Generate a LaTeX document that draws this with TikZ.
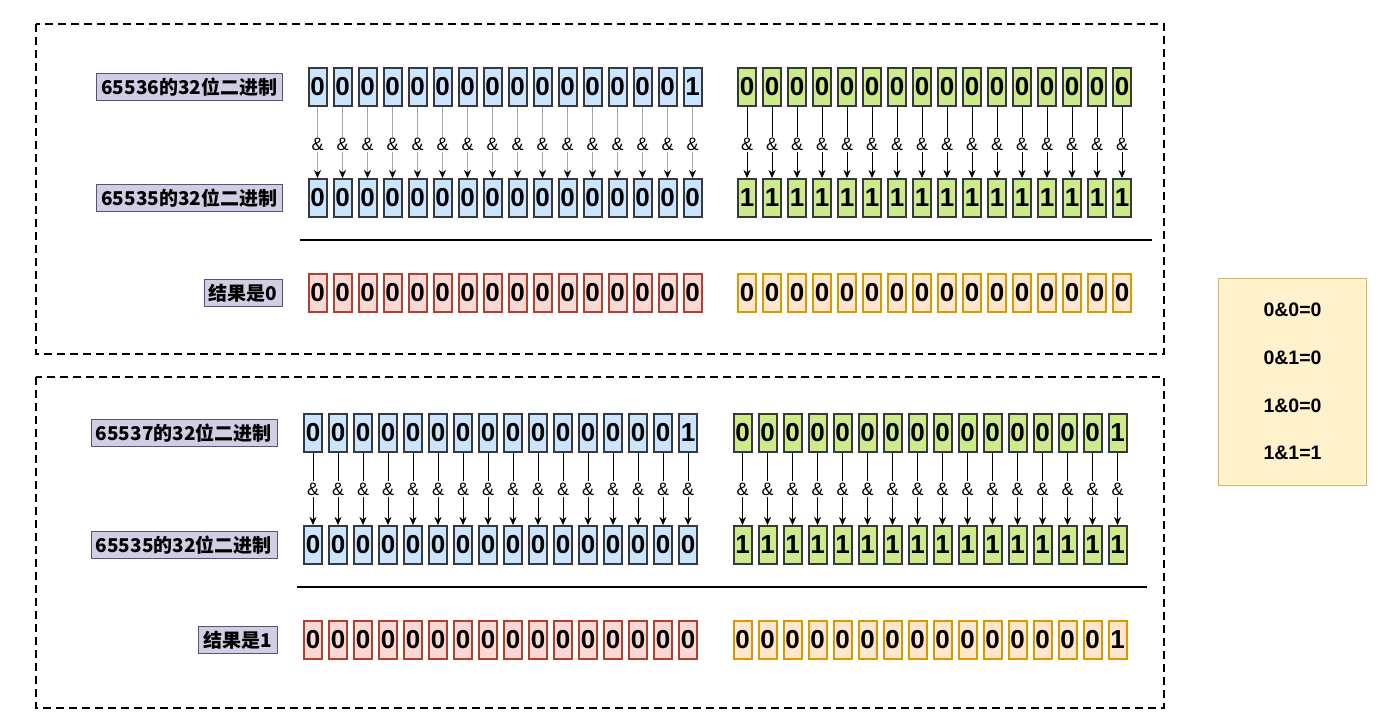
\documentclass[tikz,border=0pt]{standalone}
\usepackage{fontspec}
\setmainfont{Liberation Sans}
\newfontfamily\cjk{Noto Sans CJK SC}
\usetikzlibrary{positioning,calc,arrows.meta}
\definecolor{blueFill}{HTML}{CCE5FF}
\definecolor{greenFill}{HTML}{CDEB8B}
\definecolor{cellLine}{HTML}{36393D}
\definecolor{redFill}{HTML}{FAD9D5}
\definecolor{redLine}{HTML}{AE4132}
\definecolor{orangeFill}{HTML}{FFE6CC}
\definecolor{orangeLine}{HTML}{D79B00}
\definecolor{tagFill}{HTML}{D0CEE2}
\definecolor{tagLine}{HTML}{56517E}
\definecolor{legendFill}{HTML}{FFF2CC}
\definecolor{legendLine}{HTML}{D6B656}

\begin{document}
\begin{tikzpicture}[x=1pt, y=-1pt,
  bit/.style={draw=cellLine, line width=2pt, minimum width=18pt, minimum height=38pt, inner sep=0pt, font=\fontsize{26}{26}\selectfont\bfseries},
  blue bit/.style={bit, fill=blueFill},
  green bit/.style={bit, fill=greenFill},
  red bit/.style={bit, draw=redLine, fill=redFill},
  orange bit/.style={bit, draw=orangeLine, fill=orangeFill},
  tag/.style={draw=tagLine, fill=tagFill, inner xsep=5pt, inner ysep=2pt, minimum height=27pt, font=\cjk\fontsize{19}{19}\selectfont\bfseries},
  amp/.style={inner sep=1pt, font=\fontsize{18}{18}\selectfont},
  and arrow/.style={-{Stealth[length=8pt,width=7pt]}},
  frame/.style={line width=2pt, dash pattern=on 8pt off 5pt},
  legend/.style={draw=legendLine, fill=legendFill, minimum width=148pt, minimum height=207pt, align=center, font=\fontsize{19.5}{47.7}\selectfont\bfseries}]
  \useasboundingbox (0,0) rectangle (1396,725);

  % Frames
  \draw[frame] (36,24) rectangle (1164,354);
  \draw[frame] (36,377) rectangle (1164,708);

  % 65536 & 65535
  \foreach \d [count=\i] in {0,0,0,0,0,0,0,0,0,0,0,0,0,0,0,1}
    \node[blue bit] (a1L-\i) at ({292.5+25*\i},87) {\d};
  \foreach \d [count=\i] in {0,0,0,0,0,0,0,0,0,0,0,0,0,0,0,0}
    \node[green bit] (a1R-\i) at ({722+25*\i},87) {\d};
  \foreach \d [count=\i] in {0,0,0,0,0,0,0,0,0,0,0,0,0,0,0,0}
    \node[blue bit] (b1L-\i) at ({292.5+25*\i},198) {\d};
  \foreach \d [count=\i] in {1,1,1,1,1,1,1,1,1,1,1,1,1,1,1,1}
    \node[green bit] (b1R-\i) at ({722+25*\i},198) {\d};
  \foreach \d [count=\i] in {0,0,0,0,0,0,0,0,0,0,0,0,0,0,0,0}
    \node[red bit] (r1L-\i) at ({292.5+25*\i},293) {\d};
  \foreach \d [count=\i] in {0,0,0,0,0,0,0,0,0,0,0,0,0,0,0,0}
    \node[orange bit] (r1R-\i) at ({722+25*\i},293) {\d};

  \node[tag, left=25pt of a1L-1] (tagA1) {65536的32位二进制};
  \node[tag, left=25pt of b1L-1] (tagB1) {65535的32位二进制};
  \node[tag, left=25pt of r1L-1] (tagR1) {结果是0};

  \foreach \g in {L,R}
    \foreach \i in {1,...,16} {
      \node[amp] (m1\g-\i) at ($(a1\g-\i)!0.52!(b1\g-\i)$) {\&};
      \draw (a1\g-\i) -- (m1\g-\i);
      \draw[and arrow] (m1\g-\i) -- (b1\g-\i);
    }
  \draw[line width=2pt] (300,240) -- (1152,240);

  % 65537 & 65535
  \foreach \d [count=\i] in {0,0,0,0,0,0,0,0,0,0,0,0,0,0,0,1}
    \node[blue bit] (a2L-\i) at ({288+25*\i},433) {\d};
  \foreach \d [count=\i] in {0,0,0,0,0,0,0,0,0,0,0,0,0,0,0,1}
    \node[green bit] (a2R-\i) at ({717.5+25*\i},433) {\d};
  \foreach \d [count=\i] in {0,0,0,0,0,0,0,0,0,0,0,0,0,0,0,0}
    \node[blue bit] (b2L-\i) at ({288+25*\i},545) {\d};
  \foreach \d [count=\i] in {1,1,1,1,1,1,1,1,1,1,1,1,1,1,1,1}
    \node[green bit] (b2R-\i) at ({717.5+25*\i},545) {\d};
  \foreach \d [count=\i] in {0,0,0,0,0,0,0,0,0,0,0,0,0,0,0,0}
    \node[red bit] (r2L-\i) at ({288+25*\i},640) {\d};
  \foreach \d [count=\i] in {0,0,0,0,0,0,0,0,0,0,0,0,0,0,0,1}
    \node[orange bit] (r2R-\i) at ({717.5+25*\i},640) {\d};

  \node[tag, left=26pt of a2L-1] (tagA2) {65537的32位二进制};
  \node[tag, left=26pt of b2L-1] (tagB2) {65535的32位二进制};
  \node[tag, left=26pt of r2L-1] (tagR2) {结果是1};

  \foreach \g in {L,R}
    \foreach \i in {1,...,16} {
      \node[amp] (m2\g-\i) at ($(a2\g-\i)!0.5!(b2\g-\i)$) {\&};
      \draw (a2\g-\i) -- (m2\g-\i);
      \draw[and arrow] (m2\g-\i) -- (b2\g-\i);
    }
  \draw[line width=2pt] (297,587) -- (1147,587);

  % Rules
  \node[legend] (rules) at (1292.5,381.5) {0\&0=0\\0\&1=0\\1\&0=0\\1\&1=1};
\end{tikzpicture}
\end{document}
